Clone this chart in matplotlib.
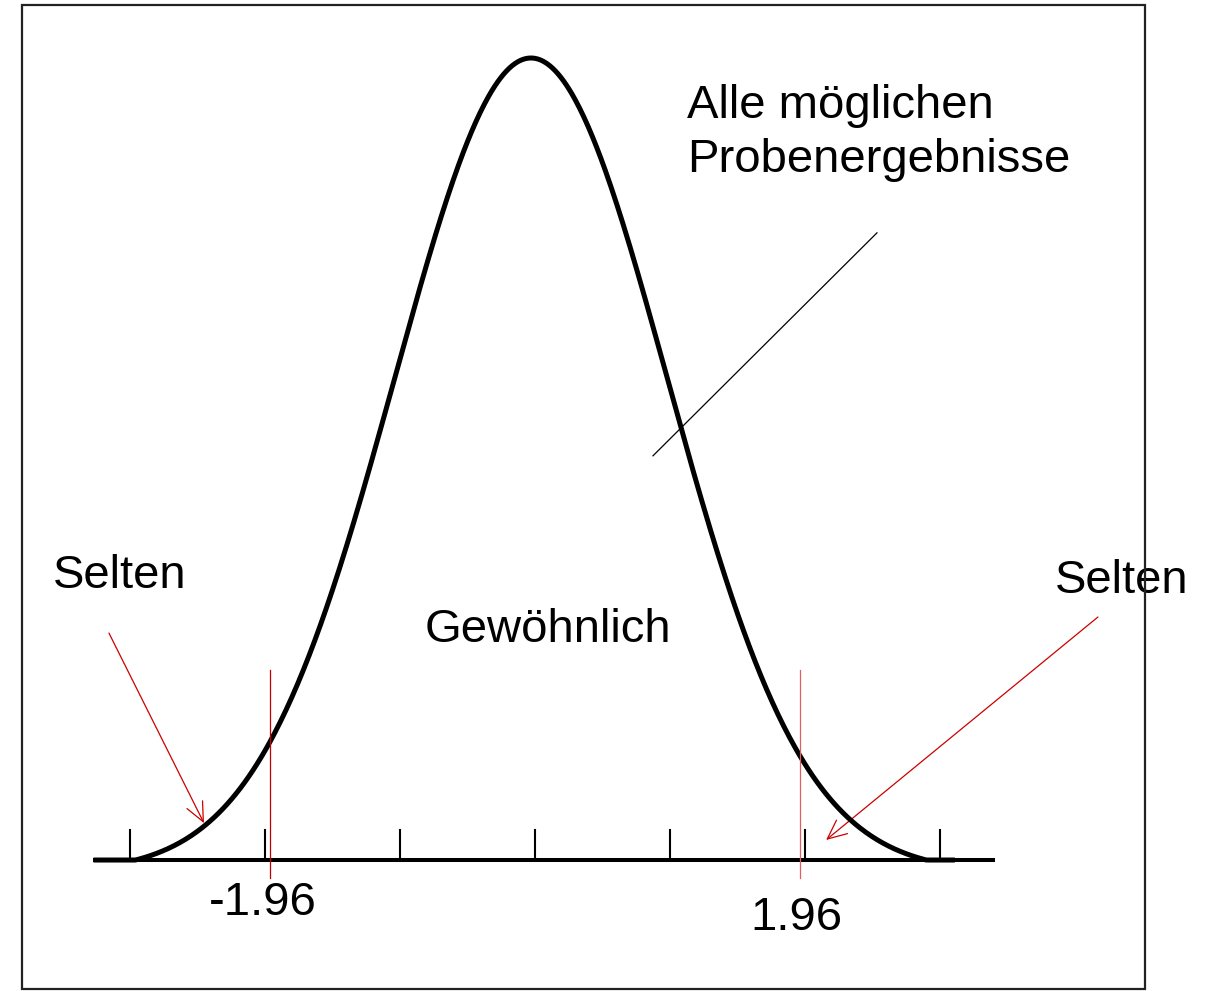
import numpy as np
import matplotlib.pyplot as plt
from matplotlib.patches import Rectangle, FancyArrowPatch

plt.rcParams['font.family'] = ['Liberation Sans', 'DejaVu Sans']

# z-scale ticks and critical values
tick_positions = [-3, -2, -1, 0, 1, 2, 3]
critical_values = [-1.96, 1.96]
critical_labels = ['-1.96', '1.96']

# normal curve parameters (in SD units, height normalised to 1 at peak)
mu, sigma = -0.03, 1.01
z_cut = 2.9

fig = plt.figure(figsize=(12.15, 9.91), dpi=100)
ax = fig.add_axes([0, 0, 1, 1])
ax.set_xlim(-3.963, 5.037)
ax.set_ylim(-0.1633, 1.0723)
ax.axis('off')

# frame around the picture
fig.patches.append(Rectangle((0.018, 0.002), 0.9245, 0.993, transform=fig.transFigure,
                             fill=False, edgecolor='#222222', linewidth=1.6))

# curve
z = np.linspace(-3.27, 3.11, 600)
A = 1 / (1 - np.exp(-z_cut**2 / 2))
h = A * np.exp(-((z - mu) / sigma)**2 / 2) - (A - 1)
h = np.clip(h, 0, None)
ax.plot(z, h, color='black', lw=3.6, solid_capstyle='butt')

# baseline and ticks
ax.plot([-3.274, 3.407], [0, 0], color='black', lw=2.9, solid_capstyle='butt')
for t in tick_positions:
    ax.plot([t, t], [0, 0.0374], color='black', lw=1.5)

# critical value lines and labels
for cv, col in zip(critical_values, ['#c00000', '#e06060']):
    ax.plot([cv, cv], [-0.022, 0.237], color=col, lw=0.9)
ax.text(-2.415, -0.0686, critical_labels[0], fontsize=34, ha='left', va='baseline')
ax.text(1.593, -0.0873, critical_labels[1], fontsize=34, ha='left', va='baseline')

# texts
ax.text(1.126, 0.925, 'Alle möglichen', fontsize=34, ha='left', va='baseline')
ax.text(1.126, 0.858, 'Probenergebnisse', fontsize=34, ha='left', va='baseline')
ax.text(-0.815, 0.272, 'Gewöhnlich', fontsize=34, ha='left', va='baseline')
ax.text(-3.570, 0.339, 'Selten', fontsize=34, ha='left', va='baseline')
ax.text(3.852, 0.333, 'Selten', fontsize=34, ha='left', va='baseline')

# pointer line to the curve
ax.plot([2.533, 0.874], [0.782, 0.504], color='black', lw=0.9)

# red arrows to the tails
for start, end in [((-3.156, 0.283), (-2.452, 0.046)), ((4.170, 0.303), (2.156, 0.025))]:
    ax.add_patch(FancyArrowPatch(start, end, arrowstyle='->,head_length=0.55,head_width=0.25',
                                 mutation_scale=25, color='#cc0000', lw=0.9,
                                 shrinkA=0, shrinkB=0))

fig.savefig('out.png', dpi=100)
